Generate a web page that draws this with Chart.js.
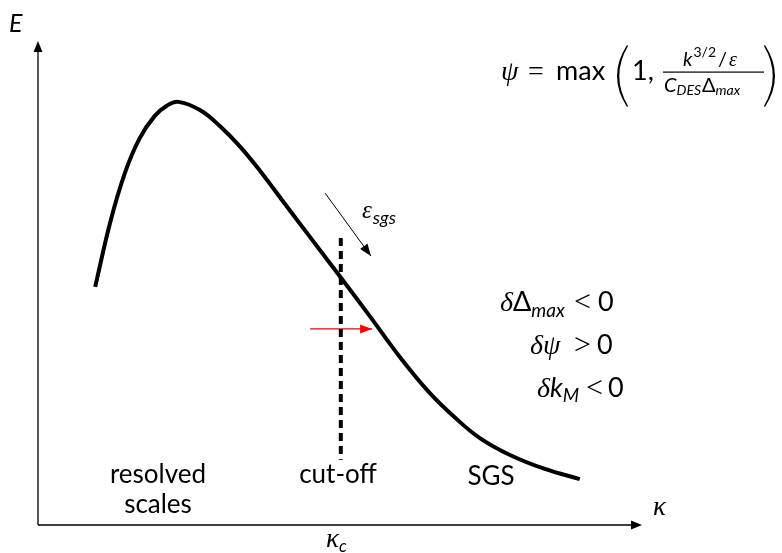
<!DOCTYPE html>
<html>
<head>
<meta charset="utf-8">
<script src="https://cdn.jsdelivr.net/npm/chart.js@4.4.1/dist/chart.umd.min.js"></script>
<style>
    html, body { margin: 0; padding: 0; background: #fff; }
    #wrap { width: 782px; height: 553px; position: relative; }
</style>
</head>
<body>
<div id="wrap"><canvas id="spectrumChart"></canvas></div>
<script>

// energy spectrum E(kappa) (arbitrary units 0..100)
var kappa  = [9.5, 12.0, 14.5, 16.9, 19.4, 21.4, 23.3, 26.9, 30.2, 33.6, 36.9, 41.0,
              45.2, 50.2, 55.2, 60.1, 65.1, 69.3, 73.4, 78.4, 84.2, 90.0];
var energy = [49.3, 62.7, 73.1, 80.1, 84.7, 86.8, 87.6, 85.9, 82.6, 78.3, 73.3, 66.5,
              59.6, 51.4, 43.1, 34.8, 27.3, 22.2, 18.0, 14.5, 11.6, 9.5];

// cut-off wavenumber line
var cutoffX = [50.3, 50.3];
var cutoffY = [59.4, 13.5];

// epsilon_sgs arrow (transfer to subgrid scales)
var epsArrowX = [47.7, 55.3];
var epsArrowY = [68.7, 55.7];

// red arrow (shift of the cut-off)
var shiftArrowX = [45.2, 55.5];
var shiftArrowY = [40.6, 40.6];

var SANS = "Lato, 'Liberation Sans', sans-serif";
var SERIF = "'Liberation Serif', 'DejaVu Serif', serif";

function toPoints(xs, ys) {
    return xs.map(function (x, i) { return { x: x, y: ys[i] }; });
}

function drawHead(ctx, x0, y0, x1, y1, len, half, color) {
    var a = Math.atan2(y1 - y0, x1 - x0);
    ctx.save();
    ctx.fillStyle = color;
    ctx.beginPath();
    ctx.moveTo(x1, y1);
    ctx.lineTo(x1 - len * Math.cos(a) + half * Math.sin(a), y1 - len * Math.sin(a) - half * Math.cos(a));
    ctx.lineTo(x1 - len * Math.cos(a) - half * Math.sin(a), y1 - len * Math.sin(a) + half * Math.cos(a));
    ctx.closePath();
    ctx.fill();
    ctx.restore();
}

// draws a row of text pieces left to right (for the math labels)
function drawRuns(ctx, x, y, runs) {
    runs.forEach(function (r) {
        ctx.font = r.f;
        if (r.x !== undefined) {
            x = r.x;
        }
        x += r.dx || 0;
        ctx.fillText(r.t, x, y + (r.dy || 0));
        x += ctx.measureText(r.t).width;
    });
    return x;
}

function paren(ctx, xEdge, xBulge, top, bottom, thick) {
    var mid = (top + bottom) / 2;
    var dir = xBulge < xEdge ? 1 : -1;
    ctx.beginPath();
    ctx.moveTo(xEdge, top);
    ctx.quadraticCurveTo(xBulge, mid, xEdge, bottom);
    ctx.lineTo(xEdge + dir * 1, bottom - 1);
    ctx.quadraticCurveTo(xBulge + dir * thick * 2, mid, xEdge + dir * 1, top + 1);
    ctx.closePath();
    ctx.fill();
}

var sketchPlugin = {
    id: "sketch",

    beforeDatasetsDraw: function (chart) {

        var ctx = chart.ctx;
        var xs = chart.scales.x;
        var ys = chart.scales.y;
        var x0 = xs.getPixelForValue(0);
        var y0 = ys.getPixelForValue(0);
        var xEnd = xs.getPixelForValue(100);
        var yEnd = ys.getPixelForValue(100);

        // =========================================
        // AXES
        // =========================================

        ctx.save();
        ctx.strokeStyle = "#000";
        ctx.lineWidth = 1.3;
        ctx.beginPath();
        ctx.moveTo(x0, y0);
        ctx.lineTo(x0, yEnd + 6);
        ctx.moveTo(x0, y0);
        ctx.lineTo(xEnd - 6, y0);
        ctx.stroke();
        ctx.restore();

        drawHead(ctx, x0, y0, x0, yEnd - 1, 11, 4.5, "#000");
        drawHead(ctx, x0, y0, xEnd + 2, y0, 11, 4.5, "#000");
    },

    afterDatasetsDraw: function (chart) {

        var ctx = chart.ctx;

        // =========================================
        // ARROW HEADS
        // =========================================

        chart.data.datasets.forEach(function (ds, i) {
            if (!ds.arrow) {
                return;
            }
            var pts = chart.getDatasetMeta(i).data;
            var a = pts[pts.length - 2];
            var b = pts[pts.length - 1];
            drawHead(ctx, a.x, a.y, b.x, b.y, 12, 4.5, ds.borderColor);
        });

        // =========================================
        // TEXT
        // =========================================

        ctx.save();
        ctx.fillStyle = "#000";
        ctx.textBaseline = "alphabetic";

        ctx.textAlign = "center";
        ctx.font = "26px " + SANS;
        ctx.fillText("resolved", 158, 483);
        ctx.fillText("scales", 158, 513);
        ctx.fillText("cut-off", 338, 483);
        ctx.fillText("SGS", 491, 485);

        ctx.textAlign = "left";

        // axis names
        drawRuns(ctx, 9, 32, [{ t: "E", f: "italic 25px " + SANS }]);
        drawRuns(ctx, 653, 515, [{ t: "κ", f: "italic 27px " + SERIF }]);
        drawRuns(ctx, 326, 547, [
            { t: "κ", f: "italic 27px " + SERIF },
            { t: "c", f: "italic 17px " + SANS, dy: 5 }
        ]);

        // epsilon_sgs
        drawRuns(ctx, 362, 218, [
            { t: "ε", f: "italic 25px " + SERIF },
            { t: "sgs", f: "italic 18px " + SANS, dx: 1, dy: 6 }
        ]);

        // psi = max(1, k^{3/2}/eps / (C_DES Delta_max))
        drawRuns(ctx, 501, 80, [
            { t: "ψ", f: "italic 28px " + SERIF },
            { t: "=", f: "28px " + SERIF, x: 528 },
            { t: "max", f: "27px " + SANS, x: 556 },
            { t: "1,", f: "27px " + SANS, x: 632 }
        ]);
        paren(ctx, 627, 607, 45, 107, 1.8);
        paren(ctx, 765, 785, 45, 107, 1.8);
        ctx.fillRect(663, 71.5, 101, 1.2);
        drawRuns(ctx, 683, 66, [
            { t: "k", f: "italic 20px " + SANS },
            { t: "3/2", f: "14px " + SANS, dx: 1, dy: -9 },
            { t: "/", f: "20px " + SANS, dx: 2 },
            { t: "ε", f: "italic 20px " + SERIF, dx: 2 }
        ]);
        drawRuns(ctx, 664, 92, [
            { t: "C", f: "italic 20px " + SANS },
            { t: "DES", f: "italic 14px " + SANS, dy: 3 },
            { t: "Δ", f: "20px " + SANS, dx: 1 },
            { t: "max", f: "italic 14px " + SANS, dy: 3 }
        ]);

        // variations
        drawRuns(ctx, 500, 311, [
            { t: "δ", f: "italic 28px " + SERIF },
            { t: "Δ", f: "27px " + SANS },
            { t: "max", f: "italic 19px " + SANS, dy: 6 },
            { t: "<", f: "30px " + SERIF, x: 574 },
            { t: "0", f: "27px " + SANS, x: 598 }
        ]);
        drawRuns(ctx, 530, 354, [
            { t: "δ", f: "italic 28px " + SERIF },
            { t: "ψ", f: "italic 28px " + SERIF },
            { t: ">", f: "30px " + SERIF, x: 574 },
            { t: "0", f: "27px " + SANS, x: 597 }
        ]);
        drawRuns(ctx, 537, 397, [
            { t: "δ", f: "italic 28px " + SERIF },
            { t: "k", f: "italic 27px " + SANS },
            { t: "M", f: "italic 19px " + SANS, dy: 5 },
            { t: "<", f: "30px " + SERIF, x: 586 },
            { t: "0", f: "27px " + SANS, x: 608 }
        ]);

        ctx.restore();
    }
};

new Chart(document.getElementById("spectrumChart"), {

    type: "scatter",

    data: {
        datasets: [
            {
                data: toPoints(cutoffX, cutoffY),
                showLine: true,
                borderColor: "#000",
                borderWidth: 4,
                borderDash: [8, 5],
                pointRadius: 0
            },
            {
                data: toPoints(kappa, energy),
                showLine: true,
                borderColor: "#000",
                borderWidth: 4,
                tension: 0.4,
                pointRadius: 0
            },
            {
                data: toPoints(epsArrowX, epsArrowY),
                showLine: true,
                borderColor: "#000",
                borderWidth: 1,
                pointRadius: 0,
                arrow: true
            },
            {
                data: toPoints(shiftArrowX, shiftArrowY),
                showLine: true,
                borderColor: "#ff0000",
                borderWidth: 1.3,
                pointRadius: 0,
                arrow: true
            }
        ]
    },

    options: {
        responsive: true,
        maintainAspectRatio: false,
        animation: false,
        layout: {
            padding: { left: 38, right: 142, top: 42, bottom: 28 }
        },
        plugins: {
            legend: { display: false },
            tooltip: { enabled: false }
        },
        scales: {
            x: { type: "linear", min: 0, max: 100, display: false },
            y: { type: "linear", min: 0, max: 100, display: false }
        }
    },

    plugins: [sketchPlugin]
});
</script>
</body>
</html>
